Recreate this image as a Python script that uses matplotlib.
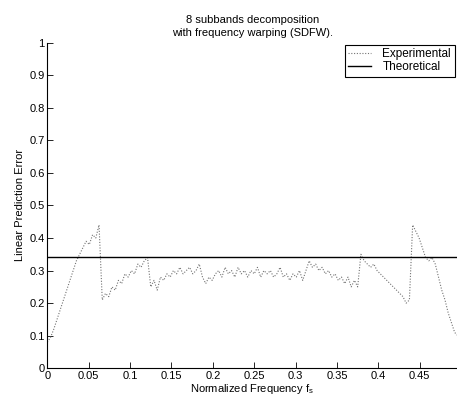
import numpy as np
import matplotlib
matplotlib.use("Agg")
from matplotlib import pyplot as plt

plt.rcParams['font.family'] = ['Liberation Sans', 'DejaVu Sans']
plt.rcParams['mathtext.default'] = 'regular'

# experimental prediction error, sampled every 1/256 of normalized frequency
freq_step = 1 / 256
experimental = [
    0.08, 0.095, 0.12, 0.15, 0.18, 0.21, 0.24, 0.27, 0.30, 0.33,
    0.35, 0.37, 0.39, 0.38, 0.41, 0.40, 0.44,
    0.21, 0.23, 0.22, 0.25, 0.24, 0.27, 0.26, 0.29, 0.28, 0.30,
    0.29, 0.32, 0.31, 0.33, 0.34,
    0.25, 0.27, 0.24, 0.28, 0.27, 0.29, 0.28, 0.30, 0.29, 0.31,
    0.29, 0.30, 0.31, 0.29, 0.30, 0.32,
    0.28, 0.26, 0.28, 0.27, 0.29, 0.30, 0.28, 0.31, 0.29, 0.30,
    0.28, 0.31, 0.29, 0.30, 0.28, 0.30,
    0.29, 0.31, 0.28, 0.30, 0.29, 0.30, 0.28, 0.29, 0.31, 0.28,
    0.29, 0.27, 0.29, 0.28, 0.30, 0.27,
    0.30, 0.33, 0.31, 0.32, 0.30, 0.31, 0.29, 0.30, 0.28, 0.29,
    0.27, 0.28, 0.26, 0.28, 0.25, 0.27, 0.25,
    0.35, 0.33, 0.32, 0.31, 0.32, 0.30, 0.29, 0.28, 0.27, 0.26,
    0.25, 0.24, 0.23, 0.22, 0.20, 0.21,
    0.44, 0.42, 0.40, 0.37, 0.34, 0.33, 0.34, 0.32, 0.28, 0.24,
    0.21, 0.17, 0.14, 0.11, 0.10,
]
theoretical = 0.343

xticks = [0, 0.05, 0.1, 0.15, 0.2, 0.25, 0.3, 0.35, 0.4, 0.45]
xticklabels = ['0', '0.05', '0.1', '0.15', '0.2', '0.25', '0.3', '0.35', '0.4', '0.45']
yticks = [0, 0.1, 0.2, 0.3, 0.4, 0.5, 0.6, 0.7, 0.8, 0.9, 1]
yticklabels = ['0', '0.1', '0.2', '0.3', '0.4', '0.5', '0.6', '0.7', '0.8', '0.9', '1']

f = np.arange(len(experimental)) * freq_step

fig = plt.figure(figsize=(4.57, 3.98), dpi=100)
ax = fig.add_axes([0.1035, 0.0746, 0.8965, 0.8185])

ax.plot(f, experimental, linestyle=(0, (1, 1.5)), color='0.45', linewidth=0.8,
        label='Experimental')
ax.axhline(theoretical, color='black', linewidth=1.0, label='Theoretical')

ax.set_xlim(0, 0.495)
ax.set_ylim(0, 1)
ax.set_xticks(xticks)
ax.set_xticklabels(xticklabels)
ax.set_yticks(yticks)
ax.set_yticklabels(yticklabels)
ax.tick_params(direction='in', labelsize=8, length=4, width=0.6, pad=2)

ax.spines['top'].set_visible(False)
ax.spines['right'].set_visible(False)
ax.spines['left'].set_linewidth(0.8)
ax.spines['bottom'].set_linewidth(0.8)

ax.set_xlabel('Normalized Frequency f$_s$', fontsize=8, labelpad=1)
ax.set_ylabel('Linear Prediction Error', fontsize=8, labelpad=3)
ax.set_title('8 subbands decomposition\nwith frequency warping (SDFW).', fontsize=8, pad=5,
             linespacing=1.3)

leg = ax.legend(loc='upper right', fontsize=8.5, fancybox=False, framealpha=1,
                edgecolor='black', borderpad=0.3, handlelength=1.9, handletextpad=1.0,
                labelspacing=0.05, borderaxespad=0.2)
leg.get_frame().set_linewidth(0.8)

fig.savefig('out.png', dpi=100)
